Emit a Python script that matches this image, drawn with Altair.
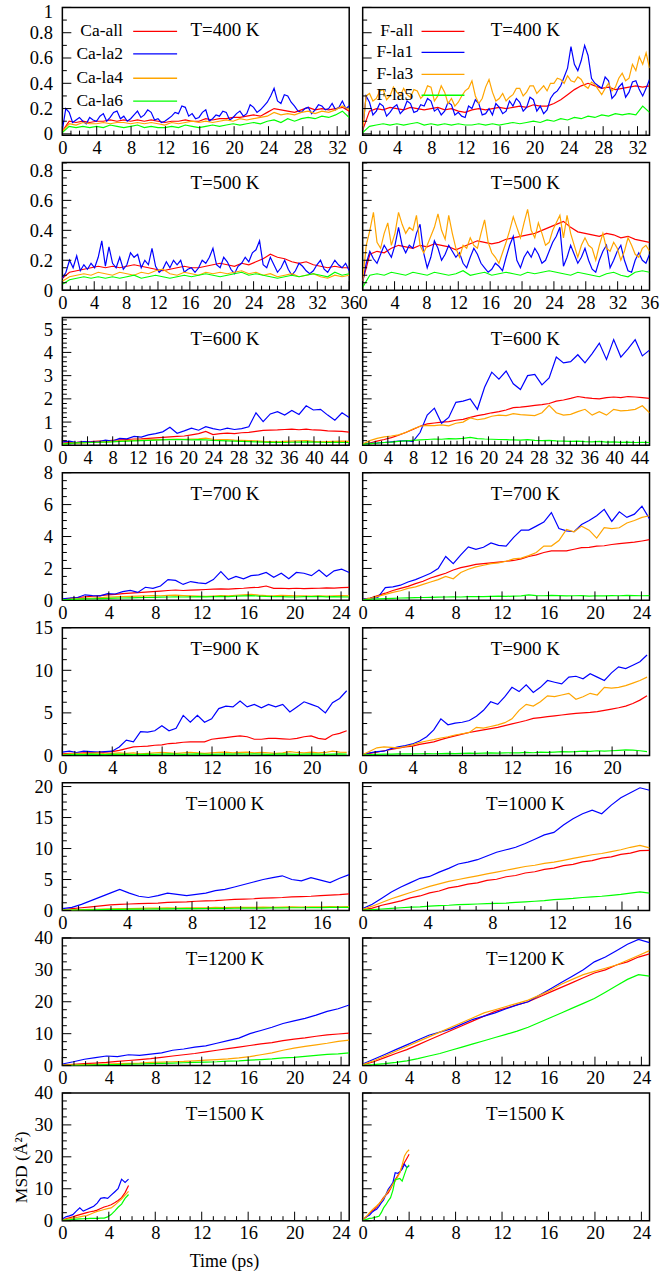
import altair as alt
import numpy as np
import pandas as pd

FONT = "Liberation Serif"
CA_NAMES = ["Ca-all", "Ca-la2", "Ca-la4", "Ca-la6"]
F_NAMES = ["F-all", "F-la1", "F-la3", "F-la5"]
COLORS = ["#ff0000", "#0000ff", "#ffa500", "#00ff00"]
TEMPS = ["T=400 K", "T=500 K", "T=600 K", "T=700 K", "T=900 K", "T=1000 K", "T=1200 K", "T=1500 K"]
X_MAX = [33.4, 36.0, 45.6, 24.7, 23.0, 17.7, 24.7, 24.7]
Y_MIN = [-0.01, 0, 0, 0, 0, 0, 0, 0]
Y_MAX = [1.0, 0.853, 5.5, 8.0, 15.0, 20.6, 40.0, 40.0]
Y_LABELS = [
    [0, 0.2, 0.4, 0.6, 0.8, 1.0],
    [0, 0.2, 0.4, 0.6, 0.8],
    [0, 1, 2, 3, 4, 5],
    [0, 2, 4, 6, 8],
    [0, 5, 10, 15],
    [0, 5, 10, 15, 20],
    [0, 10, 20, 30, 40],
    [0, 10, 20, 30, 40],
]
Y_MINOR = [0.1, 0.05, 0.2, 0.5, 1.25, 1.25, 2.5, 2.5]
T_END_CA = [33.4, 36.0, 45.6, 24.7, 22.8, 17.7, 24.7, 5.7]
T_END_F = [33.4, 36.0, 45.6, 24.7, 22.8, 17.7, 24.7, 4.0]

# ---------------- T = 400 K ----------------
ca400_all = [0.02,0.10,0.09,0.10,0.09,0.10,0.10,0.11,0.10,0.11,0.10,0.11,0.10,0.11,0.10,0.09,0.10,0.10,0.11,0.10,0.10,0.12,0.11,0.12,0.12,0.13,0.13,0.14,0.15,0.14,0.17,0.20,0.19,0.18,0.17,0.19,0.21,0.19,0.20,0.19,0.20,0.21,0.18]
ca400_la2 = [0.03,0.20,0.17,0.09,0.11,0.13,0.10,0.08,0.13,0.11,0.10,0.14,0.16,0.10,0.13,0.17,0.18,0.12,0.14,0.10,0.12,0.15,0.18,0.13,0.15,0.19,0.17,0.11,0.12,0.09,0.10,0.12,0.14,0.17,0.16,0.22,0.21,0.14,0.16,0.12,0.13,0.17,0.19,0.10,0.12,0.15,0.14,0.18,0.17,0.11,0.13,0.16,0.18,0.14,0.16,0.23,0.21,0.17,0.19,0.22,0.25,0.30,0.36,0.26,0.24,0.31,0.30,0.25,0.22,0.18,0.17,0.20,0.21,0.16,0.19,0.23,0.22,0.19,0.20,0.24,0.19,0.21,0.26,0.20,0.22]
ca400_la4 = [0.02,0.08,0.07,0.09,0.08,0.08,0.09,0.08,0.09,0.09,0.08,0.09,0.08,0.09,0.08,0.07,0.09,0.08,0.09,0.10,0.09,0.10,0.09,0.10,0.11,0.10,0.12,0.11,0.12,0.13,0.14,0.17,0.15,0.16,0.15,0.17,0.18,0.16,0.18,0.17,0.19,0.22,0.19]
ca400_la6 = [0.01,0.06,0.05,0.06,0.05,0.06,0.05,0.07,0.06,0.05,0.06,0.07,0.05,0.06,0.05,0.05,0.06,0.05,0.07,0.06,0.05,0.06,0.07,0.06,0.07,0.08,0.07,0.08,0.09,0.08,0.10,0.11,0.09,0.12,0.10,0.12,0.13,0.12,0.14,0.13,0.15,0.18,0.13]
f400_all = [0.03,0.18,0.20,0.19,0.21,0.20,0.19,0.21,0.20,0.19,0.20,0.21,0.19,0.20,0.18,0.17,0.19,0.20,0.19,0.20,0.21,0.20,0.21,0.22,0.21,0.23,0.22,0.22,0.24,0.27,0.31,0.35,0.38,0.40,0.38,0.36,0.37,0.35,0.36,0.37,0.38,0.37,0.38]
f400_la1 = [0.03,0.30,0.25,0.15,0.18,0.24,0.22,0.14,0.17,0.21,0.23,0.16,0.19,0.26,0.24,0.17,0.18,0.23,0.22,0.28,0.26,0.18,0.20,0.15,0.18,0.25,0.23,0.15,0.17,0.14,0.13,0.22,0.20,0.27,0.24,0.15,0.16,0.20,0.15,0.24,0.21,0.16,0.18,0.26,0.22,0.28,0.25,0.18,0.21,0.29,0.27,0.18,0.22,0.16,0.19,0.28,0.32,0.34,0.38,0.45,0.52,0.69,0.55,0.50,0.58,0.70,0.62,0.44,0.40,0.38,0.36,0.45,0.42,0.28,0.31,0.37,0.40,0.29,0.33,0.41,0.42,0.35,0.30,0.36,0.43]
f400_la3 = [0.03,0.30,0.32,0.26,0.28,0.34,0.35,0.27,0.30,0.37,0.33,0.30,0.36,0.31,0.29,0.35,0.34,0.28,0.31,0.38,0.37,0.26,0.30,0.38,0.33,0.24,0.28,0.22,0.25,0.30,0.34,0.36,0.42,0.30,0.24,0.28,0.37,0.43,0.33,0.26,0.28,0.32,0.26,0.29,0.31,0.36,0.36,0.30,0.33,0.38,0.38,0.32,0.35,0.38,0.34,0.40,0.40,0.44,0.43,0.40,0.46,0.42,0.41,0.45,0.43,0.38,0.36,0.41,0.39,0.35,0.31,0.36,0.40,0.34,0.37,0.44,0.48,0.42,0.44,0.55,0.50,0.61,0.55,0.64,0.52]
f400_la5 = [0.01,0.06,0.07,0.08,0.07,0.08,0.07,0.08,0.09,0.07,0.08,0.07,0.08,0.07,0.08,0.07,0.07,0.08,0.07,0.08,0.07,0.08,0.09,0.08,0.09,0.10,0.09,0.11,0.10,0.12,0.11,0.13,0.12,0.14,0.13,0.15,0.14,0.16,0.15,0.16,0.15,0.22,0.17]

# ---------------- T = 500 K ----------------
ca500_all = [0.08,0.12,0.13,0.14,0.15,0.16,0.15,0.16,0.15,0.16,0.17,0.16,0.15,0.14,0.13,0.14,0.15,0.16,0.15,0.15,0.16,0.17,0.18,0.17,0.16,0.18,0.17,0.19,0.21,0.24,0.22,0.21,0.19,0.18,0.19,0.17,0.16,0.15,0.16,0.15,0.15]
ca500_la2 = [0.08,0.12,0.20,0.15,0.23,0.13,0.17,0.14,0.18,0.15,0.22,0.33,0.16,0.29,0.18,0.15,0.22,0.14,0.17,0.25,0.22,0.24,0.15,0.20,0.17,0.28,0.16,0.12,0.14,0.19,0.15,0.20,0.17,0.20,0.12,0.14,0.15,0.12,0.15,0.20,0.18,0.22,0.28,0.17,0.15,0.22,0.19,0.14,0.11,0.16,0.18,0.22,0.19,0.25,0.27,0.33,0.17,0.15,0.22,0.17,0.12,0.15,0.20,0.14,0.10,0.13,0.18,0.16,0.13,0.11,0.13,0.17,0.20,0.14,0.12,0.16,0.20,0.17,0.15,0.18,0.13]
ca500_la4 = [0.06,0.09,0.10,0.11,0.10,0.12,0.11,0.10,0.12,0.11,0.10,0.12,0.11,0.13,0.14,0.11,0.10,0.12,0.11,0.10,0.12,0.11,0.12,0.11,0.12,0.13,0.11,0.12,0.10,0.11,0.09,0.10,0.11,0.09,0.10,0.11,0.09,0.08,0.10,0.09,0.10]
ca500_la6 = [0.04,0.07,0.08,0.09,0.08,0.09,0.08,0.09,0.08,0.09,0.10,0.08,0.09,0.10,0.09,0.08,0.09,0.10,0.09,0.10,0.11,0.10,0.09,0.10,0.11,0.12,0.10,0.11,0.10,0.09,0.08,0.09,0.10,0.09,0.10,0.11,0.10,0.09,0.12,0.10,0.11]
f500_all = [0.06,0.24,0.26,0.25,0.28,0.30,0.29,0.28,0.30,0.29,0.31,0.30,0.29,0.27,0.29,0.31,0.33,0.32,0.31,0.32,0.34,0.35,0.36,0.37,0.38,0.40,0.42,0.44,0.46,0.42,0.39,0.38,0.37,0.36,0.38,0.37,0.35,0.36,0.34,0.33,0.32]
f500_la1 = [0.06,0.18,0.26,0.21,0.18,0.24,0.30,0.26,0.22,0.30,0.42,0.30,0.25,0.30,0.28,0.38,0.44,0.25,0.15,0.22,0.33,0.28,0.20,0.24,0.30,0.26,0.22,0.25,0.18,0.15,0.22,0.28,0.24,0.18,0.15,0.12,0.14,0.18,0.16,0.13,0.22,0.30,0.36,0.20,0.15,0.22,0.26,0.22,0.28,0.24,0.18,0.20,0.26,0.32,0.36,0.42,0.16,0.22,0.30,0.24,0.18,0.22,0.28,0.20,0.14,0.12,0.20,0.26,0.30,0.15,0.20,0.26,0.30,0.20,0.13,0.12,0.20,0.25,0.20,0.18,0.24]
f500_la3 = [0.06,0.30,0.40,0.52,0.32,0.28,0.38,0.45,0.30,0.38,0.52,0.44,0.38,0.42,0.40,0.50,0.30,0.25,0.30,0.36,0.42,0.51,0.40,0.34,0.50,0.38,0.28,0.22,0.30,0.28,0.35,0.30,0.28,0.38,0.47,0.32,0.25,0.22,0.18,0.25,0.32,0.40,0.49,0.42,0.35,0.45,0.54,0.40,0.35,0.45,0.38,0.30,0.32,0.40,0.45,0.50,0.35,0.50,0.38,0.30,0.22,0.30,0.35,0.30,0.28,0.20,0.30,0.38,0.28,0.26,0.32,0.28,0.20,0.26,0.35,0.30,0.24,0.22,0.28,0.30,0.26]
f500_la5 = [0.02,0.10,0.11,0.10,0.12,0.11,0.10,0.12,0.11,0.10,0.12,0.11,0.10,0.11,0.13,0.10,0.11,0.12,0.10,0.11,0.12,0.11,0.10,0.12,0.11,0.12,0.13,0.12,0.11,0.10,0.12,0.11,0.10,0.09,0.11,0.12,0.10,0.09,0.12,0.13,0.12]

# ---------------- T = 600 K ----------------
ca600_all = [0.10,0.12,0.13,0.15,0.16,0.18,0.19,0.21,0.23,0.25,0.27,0.28,0.30,0.32,0.34,0.36,0.38,0.40,0.45,0.50,0.60,0.46,0.50,0.52,0.50,0.54,0.56,0.60,0.64,0.65,0.66,0.68,0.70,0.67,0.70,0.66,0.65,0.62,0.61,0.60,0.57]
ca600_la2 = [0.15,0.18,0.12,0.16,0.14,0.15,0.22,0.18,0.30,0.28,0.38,0.35,0.45,0.50,0.58,0.78,0.52,0.62,0.74,0.65,0.80,0.72,0.66,0.74,0.68,0.72,0.80,1.40,1.02,1.35,1.45,1.30,1.50,1.33,1.70,1.52,1.55,1.30,1.08,1.40,1.20]
ca600_la4 = [0.05,0.08,0.09,0.10,0.12,0.13,0.15,0.17,0.19,0.20,0.21,0.22,0.23,0.24,0.25,0.26,0.27,0.26,0.27,0.28,0.31,0.26,0.25,0.24,0.22,0.21,0.20,0.19,0.17,0.16,0.15,0.17,0.18,0.19,0.20,0.17,0.15,0.16,0.17,0.18,0.17]
ca600_la6 = [0.05,0.08,0.10,0.11,0.12,0.13,0.14,0.15,0.17,0.18,0.19,0.20,0.21,0.22,0.23,0.24,0.25,0.24,0.23,0.24,0.23,0.21,0.20,0.19,0.18,0.17,0.16,0.15,0.14,0.13,0.13,0.12,0.13,0.14,0.15,0.14,0.13,0.12,0.13,0.12,0.12]
f600_all = [0.05,0.10,0.18,0.25,0.33,0.43,0.55,0.68,0.82,0.92,0.96,1.00,1.02,1.08,1.12,1.20,1.28,1.33,1.40,1.45,1.52,1.62,1.64,1.68,1.72,1.75,1.80,1.90,1.95,2.02,2.10,2.05,2.02,2.00,2.05,2.08,2.05,2.10,2.08,2.05,2.02]
f600_la1 = [0.05,0.08,0.10,0.12,0.15,0.18,0.20,0.16,0.55,1.30,1.60,0.95,1.20,1.85,1.90,2.00,1.55,2.50,3.15,2.85,3.20,2.65,2.40,3.00,3.05,2.60,2.90,3.80,3.55,3.60,3.90,3.55,3.95,4.40,3.70,4.55,3.80,4.15,4.55,3.85,4.10]
f600_la3 = [0.05,0.20,0.30,0.36,0.40,0.45,0.55,0.70,0.82,0.86,0.85,0.88,0.84,0.95,1.00,1.18,1.10,1.15,1.25,1.30,1.28,1.36,1.32,1.30,1.28,1.40,1.72,1.40,1.30,1.33,1.45,1.55,1.30,1.45,1.30,1.55,1.48,1.50,1.55,1.70,1.40]
f600_la5 = [0.04,0.07,0.09,0.12,0.14,0.17,0.19,0.21,0.23,0.25,0.27,0.26,0.29,0.28,0.30,0.34,0.29,0.27,0.26,0.25,0.24,0.23,0.22,0.24,0.21,0.20,0.21,0.19,0.18,0.17,0.18,0.16,0.15,0.17,0.14,0.15,0.13,0.14,0.12,0.13,0.12]

# ---------------- T = 700 K ----------------
ca700_all = [0.08,0.12,0.18,0.22,0.26,0.30,0.34,0.38,0.42,0.45,0.48,0.52,0.55,0.58,0.62,0.65,0.62,0.64,0.66,0.68,0.70,0.72,0.70,0.74,0.76,0.80,0.82,0.90,0.75,0.76,0.74,0.76,0.73,0.75,0.76,0.78,0.77,0.80,0.82]
ca700_la2 = [0.10,0.15,0.18,0.35,0.30,0.28,0.42,0.40,0.55,0.62,0.50,0.82,0.75,0.90,1.30,1.25,1.00,1.18,1.10,1.05,1.30,1.80,1.30,1.50,1.35,1.55,1.60,1.75,1.45,1.70,1.35,1.75,1.70,1.55,1.90,1.50,1.85,1.95,1.75]
ca700_la4 = [0.04,0.07,0.10,0.12,0.15,0.17,0.20,0.22,0.24,0.25,0.26,0.28,0.30,0.29,0.31,0.33,0.30,0.28,0.26,0.25,0.27,0.30,0.28,0.32,0.35,0.38,0.33,0.30,0.29,0.31,0.30,0.28,0.29,0.26,0.28,0.27,0.29,0.30,0.28]
ca700_la6 = [0.04,0.06,0.08,0.09,0.10,0.11,0.13,0.14,0.15,0.16,0.17,0.18,0.19,0.20,0.21,0.22,0.21,0.22,0.23,0.22,0.24,0.25,0.24,0.26,0.28,0.30,0.27,0.25,0.24,0.23,0.22,0.21,0.23,0.24,0.25,0.22,0.23,0.22,0.21]
f700_all = [0.08,0.15,0.30,0.45,0.62,0.75,0.88,1.05,1.20,1.40,1.55,1.70,1.90,2.05,2.15,2.25,2.30,2.35,2.40,2.45,2.50,2.60,2.75,2.85,3.00,3.10,3.10,3.10,3.20,3.30,3.32,3.40,3.42,3.50,3.55,3.60,3.65,3.72,3.80]
f700_la1 = [0.10,0.12,0.18,0.80,0.85,0.95,1.15,1.30,1.50,1.70,2.00,2.75,2.30,2.85,3.35,3.20,3.33,3.60,3.45,3.40,3.95,4.40,4.40,4.65,4.90,5.50,4.50,4.35,4.30,4.75,5.00,5.30,5.70,4.95,5.55,5.20,5.40,5.90,5.10]
f700_la3 = [0.05,0.12,0.25,0.38,0.50,0.60,0.75,0.85,1.00,1.15,1.30,1.50,1.35,1.75,1.95,2.10,2.20,2.30,2.35,2.45,2.60,2.65,2.80,3.00,3.40,3.40,3.75,4.45,4.30,4.65,4.40,3.90,4.55,4.50,4.55,4.85,5.00,5.20,5.30]
f700_la5 = [0.04,0.07,0.09,0.11,0.13,0.15,0.16,0.17,0.18,0.19,0.20,0.21,0.22,0.21,0.23,0.24,0.23,0.25,0.26,0.25,0.27,0.28,0.35,0.30,0.29,0.31,0.30,0.28,0.29,0.30,0.27,0.29,0.28,0.30,0.29,0.31,0.30,0.29,0.30]

# ---------------- T = 900 K ----------------
ca900_all = [0.20,0.25,0.25,0.30,0.30,0.35,0.40,0.45,0.60,0.80,1.00,1.05,1.10,1.20,1.25,1.40,1.45,1.55,1.60,1.60,1.60,1.90,2.00,2.10,2.20,2.30,2.20,1.90,1.90,2.00,2.00,1.95,1.90,2.00,2.20,2.30,2.00,1.90,2.40,2.60,2.90]
ca900_la2 = [0.40,0.50,0.35,0.50,0.45,0.40,0.45,0.50,1.00,1.80,1.60,2.80,2.75,2.90,3.50,2.90,3.20,4.70,3.90,4.70,3.90,4.30,5.50,5.80,5.70,6.40,5.70,6.00,5.60,6.00,5.70,6.00,5.10,5.70,6.30,6.00,5.70,5.00,6.20,6.70,7.60]
ca900_la4 = [0.10,0.20,0.25,0.20,0.25,0.30,0.20,0.25,0.30,0.25,0.30,0.20,0.25,0.30,0.35,0.30,0.25,0.30,0.35,0.30,0.25,0.30,0.35,0.40,0.30,0.35,0.40,0.30,0.35,0.30,0.25,0.30,0.45,0.35,0.30,0.40,0.30,0.35,0.50,0.40,0.35]
ca900_la6 = [0.05,0.10,0.12,0.10,0.15,0.12,0.10,0.15,0.12,0.15,0.10,0.12,0.15,0.12,0.15,0.18,0.15,0.12,0.15,0.18,0.15,0.12,0.15,0.18,0.15,0.20,0.15,0.18,0.15,0.12,0.15,0.18,0.15,0.12,0.15,0.18,0.15,0.12,0.15,0.18,0.15]
f900_all = [0.10,0.25,0.40,0.55,0.70,0.85,1.00,1.10,1.30,1.45,1.60,1.85,2.10,2.30,2.50,2.70,2.85,3.00,3.15,3.30,3.50,3.70,3.90,4.10,4.35,4.45,4.55,4.65,4.75,4.85,4.95,5.00,5.05,5.15,5.30,5.45,5.60,5.80,6.10,6.50,7.00]
f900_la1 = [0.15,0.30,0.45,0.50,0.80,1.00,1.15,1.35,1.70,2.20,3.00,4.30,3.60,3.80,3.90,4.10,4.60,5.30,6.30,6.00,6.90,8.00,7.50,8.30,7.40,8.00,8.80,8.60,8.40,9.20,9.30,9.00,9.60,9.20,8.80,9.70,10.40,10.20,10.60,11.00,11.80]
f900_la3 = [0.10,0.50,0.90,1.00,0.95,0.90,1.05,1.25,1.50,1.70,1.85,2.05,2.20,2.40,2.55,2.70,3.30,3.20,3.40,3.60,3.85,4.30,5.30,6.00,5.80,6.30,7.00,6.90,7.10,7.30,6.60,6.90,7.30,7.10,8.00,7.90,8.00,8.20,8.50,8.80,9.20]
f900_la5 = [0.05,0.10,0.12,0.15,0.15,0.18,0.20,0.18,0.20,0.22,0.20,0.22,0.25,0.22,0.25,0.28,0.25,0.28,0.30,0.28,0.30,0.32,0.30,0.35,0.32,0.38,0.35,0.40,0.45,0.42,0.45,0.50,0.48,0.55,0.50,0.55,0.60,0.65,0.62,0.55,0.45]

# ---------------- T = 1000 K ----------------
ca1000_all = [0.10,0.30,0.45,0.60,0.75,0.90,1.00,1.05,1.10,1.15,1.20,1.30,1.35,1.40,1.50,1.55,1.60,1.70,1.80,1.85,1.90,2.00,2.05,2.10,2.20,2.25,2.30,2.40,2.50,2.55,2.70]
ca1000_la2 = [0.30,0.50,1.00,1.60,2.20,2.80,3.40,2.80,2.30,2.10,2.40,2.80,2.60,2.40,2.60,2.80,3.20,3.40,3.80,4.20,4.60,5.00,5.30,5.60,5.00,4.80,5.30,4.90,4.50,5.20,5.80]
ca1000_la4 = [0.05,0.10,0.15,0.20,0.25,0.28,0.30,0.32,0.35,0.38,0.40,0.42,0.40,0.45,0.42,0.45,0.50,0.48,0.50,0.52,0.50,0.55,0.52,0.55,0.58,0.55,0.60,0.58,0.62,0.60,0.65]
ca1000_la6 = [0.05,0.08,0.10,0.12,0.15,0.18,0.20,0.22,0.24,0.25,0.26,0.28,0.30,0.30,0.32,0.33,0.35,0.35,0.37,0.38,0.40,0.40,0.42,0.43,0.45,0.45,0.47,0.48,0.50,0.50,0.52]
f1000_all = [0.10,0.40,0.85,1.20,1.55,2.05,2.35,2.85,3.15,3.65,3.90,4.25,4.45,4.85,5.05,5.45,5.65,6.05,6.25,6.65,6.85,7.25,7.45,7.85,8.05,8.45,8.65,9.05,9.25,9.65,9.70]
f1000_la1 = [0.30,1.00,2.00,3.00,3.80,4.50,5.20,5.50,6.20,6.80,7.50,7.80,8.20,8.80,9.40,9.80,10.20,10.80,11.50,12.20,12.60,13.80,14.80,15.60,16.20,15.60,17.00,18.20,19.00,19.80,19.40]
f1000_la3 = [0.20,0.70,1.30,1.90,2.40,2.90,3.40,3.90,4.30,4.70,5.00,5.30,5.60,5.90,6.20,6.50,6.80,7.10,7.30,7.60,7.80,8.10,8.40,8.70,9.00,9.20,9.50,9.80,10.20,10.50,10.10]
f1000_la5 = [0.05,0.15,0.25,0.35,0.45,0.55,0.60,0.70,0.80,0.85,0.95,1.00,1.05,1.10,1.15,1.20,1.30,1.40,1.50,1.60,1.75,1.85,1.95,2.10,2.20,2.30,2.45,2.60,2.80,3.00,2.80]

# ---------------- T = 1200 K ----------------
ca1200_all = [0.20,0.40,0.60,0.80,1.00,1.30,1.60,1.90,2.20,2.60,3.00,3.40,3.80,4.30,4.80,5.30,5.80,6.30,6.80,7.20,7.80,8.30,8.70,9.20,9.60,9.90,10.20]
ca1200_la2 = [0.50,1.20,2.00,2.50,3.00,2.80,3.40,3.20,3.60,4.00,4.80,5.20,5.80,6.20,7.00,7.80,8.60,10.00,11.00,12.00,13.20,14.00,14.80,15.80,17.00,17.80,19.00]
ca1200_la4 = [0.10,0.20,0.30,0.40,0.50,0.60,0.70,0.80,1.00,1.10,1.20,1.30,1.50,1.70,1.90,2.10,2.40,2.80,3.40,4.00,4.80,5.50,6.00,6.50,7.00,7.60,8.00]
ca1200_la6 = [0.05,0.10,0.15,0.20,0.30,0.35,0.45,0.50,0.60,0.70,0.80,0.90,1.00,1.10,1.20,1.40,1.50,1.70,1.90,2.10,2.40,2.60,2.90,3.20,3.50,3.70,4.00]
f1200_all = [0.20,1.20,2.50,3.80,5.00,6.50,8.00,9.50,11.00,12.50,14.00,15.50,17.00,18.00,19.00,20.00,21.50,23.00,24.50,26.00,27.50,29.00,30.00,31.50,32.50,34.00,35.00]
f1200_la1 = [0.50,2.00,3.50,5.00,6.50,8.00,9.50,10.50,11.50,13.00,14.50,15.50,16.50,17.80,19.00,20.00,22.00,24.00,26.00,28.00,30.00,32.50,34.00,36.00,38.00,39.50,38.50]
f1200_la3 = [0.30,1.50,3.00,4.50,6.00,7.50,9.00,10.50,12.00,13.50,15.00,16.50,17.50,18.50,19.50,20.50,22.00,23.50,25.50,27.00,28.50,29.50,30.50,31.50,33.00,34.50,36.00]
f1200_la5 = [0.10,0.30,0.60,1.00,1.50,2.20,3.00,3.80,4.80,5.80,6.80,7.80,8.80,9.80,10.80,12.00,13.50,15.00,16.50,18.00,19.50,21.00,23.00,25.00,27.00,28.50,28.00]

# ---------------- T = 1500 K ----------------
ca1500_all = [0.3,0.6,0.9,1.2,1.6,1.9,2.2,2.5,2.8,3.0,3.3,3.8,4.3,4.6,5.0,5.6,6.3,7.2,8.8,11.0]
ca1500_la2 = [0.5,1.2,1.5,1.9,3.0,4.0,3.0,3.5,4.0,4.5,5.5,7.0,7.2,7.0,8.0,9.0,10.0,13.0,12.0,13.0]
ca1500_la4 = [0.2,0.4,0.6,0.8,1.0,1.2,1.4,1.6,2.0,2.5,2.9,3.2,3.5,3.8,4.0,4.8,5.8,6.8,8.0,9.2]
ca1500_la6 = [0.1,0.2,0.3,0.4,0.5,0.55,0.6,0.65,0.7,0.7,0.75,0.8,0.8,1.2,1.9,3.0,4.2,5.2,7.0,8.2]
f1500_all = [0.2,0.8,1.5,2.3,3.0,3.5,4.3,5.2,6.2,7.3,8.0,8.7,10.0,11.5,12.8,14.0,15.2,16.8,18.2,19.5,20.8]
f1500_la1 = [0.3,0.9,1.4,1.8,2.6,3.2,3.6,4.5,5.6,6.5,8.2,9.8,10.8,11.9,15.0,14.8,15.3,16.1,17.7,16.6,17.2]
f1500_la3 = [0.2,1.0,1.6,2.5,3.3,4.0,4.6,5.3,6.1,7.0,8.2,9.3,10.3,11.5,12.4,13.6,15.0,17.5,20.3,21.5,22.2]
f1500_la5 = [0.1,0.3,0.5,0.7,0.8,1.0,1.2,1.4,2.5,4.0,5.0,6.2,7.2,9.5,12.9,13.0,13.2,12.4,14.5,16.6,17.5]

CA = [
    [ca400_all, ca400_la2, ca400_la4, ca400_la6],
    [ca500_all, ca500_la2, ca500_la4, ca500_la6],
    [ca600_all, ca600_la2, ca600_la4, ca600_la6],
    [ca700_all, ca700_la2, ca700_la4, ca700_la6],
    [ca900_all, ca900_la2, ca900_la4, ca900_la6],
    [ca1000_all, ca1000_la2, ca1000_la4, ca1000_la6],
    [ca1200_all, ca1200_la2, ca1200_la4, ca1200_la6],
    [ca1500_all, ca1500_la2, ca1500_la4, ca1500_la6],
]
F = [
    [f400_all, f400_la1, f400_la3, f400_la5],
    [f500_all, f500_la1, f500_la3, f500_la5],
    [f600_all, f600_la1, f600_la3, f600_la5],
    [f700_all, f700_la1, f700_la3, f700_la5],
    [f900_all, f900_la1, f900_la3, f900_la5],
    [f1000_all, f1000_la1, f1000_la3, f1000_la5],
    [f1200_all, f1200_la1, f1200_la3, f1200_la5],
    [f1500_all, f1500_la1, f1500_la3, f1500_la5],
]

W, H = 287.5, 128
MAJOR_LEN, MINOR_LEN = 9, 4.5
ONE = pd.DataFrame({"a": [0]})


def tick_layers(xs, ys, xaxis, yaxis, row):
    xmax = X_MAX[row]
    x_all = np.round(np.arange(0, xmax + 1e-9, 1.0), 4)
    x_major = [v for v in x_all if abs(v % 4) < 1e-6]
    x_minor = [v for v in x_all if abs(v % 4) > 1e-6]
    y_major = Y_LABELS[row]
    y_all = np.round(np.arange(0, Y_MAX[row] + 1e-9, Y_MINOR[row]), 4)
    y_minor = [v for v in y_all if min(abs(v - m) for m in y_major) > 1e-6]
    out = []
    for vals, ln in ((x_major, MAJOR_LEN), (x_minor, MINOR_LEN)):
        out.append(
            alt.Chart(pd.DataFrame({"t": vals}))
            .mark_rule(color="black", strokeWidth=1)
            .encode(x=alt.X("t:Q", scale=xs, axis=xaxis), y=alt.value(H), y2=alt.value(H - ln))
        )
    for vals, ln in ((y_major, MAJOR_LEN), (y_minor, MINOR_LEN)):
        out.append(
            alt.Chart(pd.DataFrame({"msd": vals}))
            .mark_rule(color="black", strokeWidth=1)
            .encode(y=alt.Y("msd:Q", scale=ys, axis=yaxis), x=alt.value(0), x2=alt.value(ln))
        )
    return out


def panel(row, side):
    left = side == 0
    series = CA[row] if left else F[row]
    names = CA_NAMES if left else F_NAMES
    tend = T_END_CA[row] if left else T_END_F[row]
    xs = alt.Scale(domain=[0, X_MAX[row]], nice=False, zero=False)
    ys = alt.Scale(domain=[Y_MIN[row], Y_MAX[row]], nice=False, zero=False)
    bottom = row == 7

    xkw = dict(
        values=list(range(0, int(X_MAX[row] + 1e-9) + 1, 4)), format="~r",
        labelFont=FONT, labelFontSize=18.5, labelColor="black", labelPadding=3,
        labelOverlap=False, labelFlush=False, ticks=False, tickSize=0,
        domain=False, grid=False,
    )
    if bottom and left:
        xkw.update(title="Time (ps)", titleFont=FONT, titleFontSize=18, titleFontWeight="normal",
                   titleColor="black", titleX=162, titleY=41, titleAlign="center",
                   titleBaseline="middle")
    else:
        xkw.update(title=None)
    xaxis = alt.Axis(**xkw)

    if left:
        ykw = dict(
            values=Y_LABELS[row], format="~r", labelFont=FONT, labelFontSize=18.5,
            labelColor="black", labelPadding=10, labelOverlap=False, ticks=False,
            tickSize=0, domain=False, grid=False,
        )
        if row == 0:
            ykw.update(labelFlush=1, labelFlushOffset=5)
        else:
            ykw.update(labelFlush=False)
        if bottom:
            ykw.update(title="MSD (Å²)", titleFont=FONT, titleFontSize=17.5, titleFontWeight="normal",
                       titleColor="black", titleX=-41, titleY=74, titleAngle=270,
                       titleAlign="center", titleBaseline="middle")
        else:
            ykw.update(title=None)
        yaxis = alt.Axis(**ykw)
    else:
        yaxis = None

    layers = []
    for k in range(4):
        v = series[k]
        df = pd.DataFrame({"t": np.linspace(0, tend, len(v)), "msd": v})
        layers.append(
            alt.Chart(df)
            .mark_line(color=COLORS[k], strokeWidth=1.2, clip=True)
            .encode(
                x=alt.X("t:Q", scale=xs, axis=xaxis),
                y=alt.Y("msd:Q", scale=ys, axis=yaxis),
            )
        )
    layers += tick_layers(xs, ys, xaxis, yaxis, row)

    layers.append(
        alt.Chart(ONE)
        .mark_text(text=TEMPS[row], font=FONT, fontSize=19, color="black",
                   align="center", baseline="middle")
        .encode(x=alt.value(163), y=alt.value(23 if row == 0 else 21))
    )

    if row == 0:
        if left:
            tx, l0, l1, ly = 60.7, 71, 115, [24, 46.5, 71, 94]
        else:
            tx, l0, l1, ly = 50.7, 59, 102, [24, 45, 67, 88]
        for k in range(4):
            layers.append(
                alt.Chart(ONE)
                .mark_text(text=names[k], font=FONT, fontSize=17.5, color="black",
                           align="right", baseline="middle")
                .encode(x=alt.value(tx), y=alt.value(ly[k]))
            )
            layers.append(
                alt.Chart(ONE)
                .mark_rule(color=COLORS[k], strokeWidth=1.3)
                .encode(x=alt.value(l0), x2=alt.value(l1), y=alt.value(ly[k]))
            )

    return alt.layer(*layers).properties(width=W, height=H)


panels = []
for r in range(8):
    panels.append(panel(r, 0))
    panels.append(panel(r, 1))

chart = (
    alt.concat(*panels, columns=2, spacing={"row": 27.43, "column": 13}, bounds="flush")
    .properties(padding={"left": 11.5, "top": 0, "right": 0, "bottom": 0})
    .configure(font=FONT)
    .configure_view(stroke="black", strokeWidth=1.5)
)

chart.save("out.html", embed_options={"renderer": "svg", "actions": False})
